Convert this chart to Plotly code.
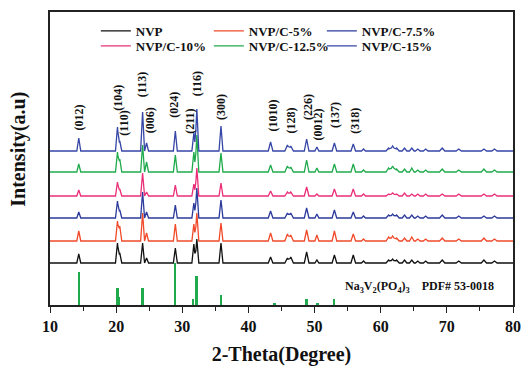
import plotly.graph_objects as go

# ---- data ----
series_names = ["NVP", "NVP/C-5%", "NVP/C-7.5%", "NVP/C-10%", "NVP/C-12.5%", "NVP/C-15%"]
series_colors = ["#111111", "#f04a2a", "#2b3a9c", "#ea2f78", "#1faa4c", "#3646a6"]
offsets = [42, 64, 87, 109, 133, 154]

peak_pos = [14.35, 20.2, 20.55, 24.0, 24.6, 28.95, 31.75, 32.2, 35.85, 43.35, 45.9, 46.4,
            48.8, 50.35, 53.0, 55.85, 57.4, 61.2, 61.8, 62.4, 63.6, 64.7, 65.6, 66.8,
            69.3, 71.8, 75.6, 77.2]
peak_hw = [0.3, 0.3, 0.3, 0.3, 0.3, 0.3, 0.3, 0.3, 0.3, 0.35, 0.4, 0.4,
           0.35, 0.3, 0.35, 0.35, 0.3, 0.4, 0.5, 0.4, 0.35, 0.35, 0.35, 0.35,
           0.4, 0.4, 0.4, 0.4]
h_nvp = [9, 20, 10, 20, 5, 15, 19, 24, 20, 6, 5, 6, 11, 3, 8, 8, 2, 3, 4, 3, 3, 3, 2, 2, 3, 2, 3, 2]
h_c5 = [10, 20, 15, 28, 8, 17, 17, 28, 18, 8, 7, 6, 11, 6, 10, 7, 2, 4, 5, 3, 3, 4, 2, 2, 3, 2, 3, 2]
h_c75 = [6, 17, 8, 26, 6, 13, 15, 30, 18, 7, 5, 5, 10, 4, 8, 6, 2, 3, 4, 3, 3, 3, 2, 2, 3, 2, 2, 2]
h_c10 = [6, 14, 7, 23, 4, 11, 12, 28, 13, 5, 4, 4, 9, 2, 7, 7, 2, 2, 3, 2, 3, 2, 2, 2, 2, 2, 2, 2]
h_c125 = [8, 20, 13, 27, 10, 17, 20, 37, 19, 7, 6, 5, 12, 4, 8, 8, 2, 4, 6, 3, 3, 4, 2, 2, 3, 2, 3, 2]
h_c15 = [13, 24, 10, 39, 8, 20, 18, 42, 25, 9, 6, 5, 12, 4, 8, 7, 2, 3, 5, 3, 3, 3, 2, 2, 3, 2, 2, 2]
heights = [h_nvp, h_c5, h_c75, h_c10, h_c125, h_c15]

ref_pos = [14.4, 20.25, 20.5, 24.0, 28.9, 31.7, 32.2, 35.9, 44.0, 48.8, 50.5, 53.0]
ref_h = [33, 17, 8, 17, 42, 6, 29, 10, 2, 6, 2, 6]

hkl_labels = ["(012)", "(104)", "(110)", "(113)", "(006)", "(024)", "(211)", "(116)", "(300)",
              "(1010)", "(128)", "(226)", "(0012)", "(137)", "(318)"]
hkl_x = [14.24, 20.15, 21.06, 23.94, 25.15, 28.64, 31.06, 32.27, 35.76,
         43.64, 46.36, 48.94, 50.45, 53.0, 56.06]
hkl_y = [187.5, 207.5, 181.5, 220, 185, 200.5, 183.5, 221, 198.5,
         189, 184, 197.5, 180, 190.5, 184]

x_min, x_max = 10, 80
y_max = 293


def pattern(offset, hs):
    # piecewise-linear stick profile built from the peak table
    xs = {x_min, x_max}
    for p, w in zip(peak_pos, peak_hw):
        xs.update([p - w, p, p + w])
    xs = sorted(x for x in xs if x_min <= x <= x_max)
    ys = []
    for x in xs:
        v = offset
        for p, w, h in zip(peak_pos, peak_hw, hs):
            d = abs(x - p)
            if d < w:
                v += h * (1 - d / w)
        ys.append(v)
    return xs, ys


FONT = "Liberation Serif"
fig = go.Figure()

for i, (name, col, off, hs) in enumerate(zip(series_names, series_colors, offsets, heights)):
    xs, ys = pattern(off, hs)
    fig.add_trace(go.Scatter(x=xs, y=ys, mode="lines", name=name,
                             line=dict(color=col, width=1.3),
                             legend="legend" if i < 3 else "legend2"))

fig.add_trace(go.Bar(x=ref_pos, y=ref_h, width=0.28, marker=dict(color="#1faa4c", line_width=0),
                     showlegend=False))

for t, x, y in zip(hkl_labels, hkl_x, hkl_y):
    fig.add_annotation(x=x, y=y, text=t, textangle=-90, showarrow=False,
                       font=dict(family=FONT, size=12, color="#111", weight="bold"))

fig.add_annotation(x=0.963, y=18, xref="paper", yref="y", xanchor="right", yanchor="middle",
                   text="Na<sub>3</sub>V<sub>2</sub>(PO<sub>4</sub>)<sub>3</sub>&nbsp;&nbsp;&nbsp;&nbsp;PDF# 53-0018",
                   showarrow=False, font=dict(family=FONT, size=12, color="#111", weight="bold"))

fig.add_annotation(x=-31 / 463, y=0.53, xref="paper", yref="paper", xanchor="center", yanchor="middle",
                   text="Intensity(a.u)", textangle=-90, showarrow=False,
                   font=dict(family=FONT, size=20, color="#111", weight="bold"))

legend_common = dict(orientation="h", xanchor="left", yanchor="middle", bgcolor="rgba(0,0,0,0)",
                     font=dict(family=FONT, size=13, color="#111", weight="bold"),
                     entrywidth=68, entrywidthmode="pixels", tracegroupgap=0, itemwidth=30)

fig.update_layout(
    width=521, height=366,
    margin=dict(l=50, r=8, t=12, b=61, autoexpand=False),
    paper_bgcolor="white", plot_bgcolor="white",
    bargap=0,
    legend=dict(x=0.099, y=(305 - 31) / 293, **legend_common),
    legend2=dict(x=0.099, y=(305 - 46) / 293, **legend_common),
    xaxis=dict(range=[x_min, x_max], tickmode="array", tickvals=[10, 20, 30, 40, 50, 60, 70, 80],
               ticks="outside", ticklen=6, tickwidth=1.3, tickcolor="#222",
               minor=dict(tickvals=[15, 25, 35, 45, 55, 65, 75], ticks="outside", ticklen=4,
                          tickwidth=1.2, tickcolor="#222"),
               showline=True, linecolor="#222", linewidth=1.5, mirror=True, showgrid=False,
               zeroline=False,
               tickfont=dict(family=FONT, size=16, color="#111", weight="bold"),
               title=dict(text="2-Theta(Degree)", standoff=14,
                          font=dict(family=FONT, size=20, color="#111", weight="bold"))),
    yaxis=dict(range=[0, y_max], showticklabels=False, ticks="", showline=True, linecolor="#222",
               linewidth=1.5, mirror=True, showgrid=False, zeroline=False),
)

fig.write_html("out.html", config={"displayModeBar": False},
               post_script="document.body.style.margin='0';document.body.style.overflow='hidden';")
